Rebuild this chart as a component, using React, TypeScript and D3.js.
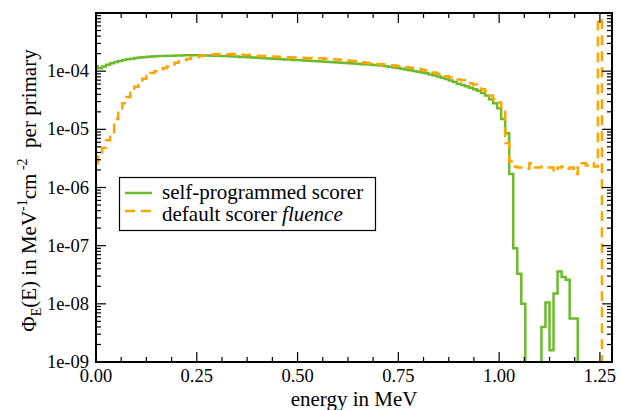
import React from "react";
import * as d3 from "d3";

// histogram bins, centred on multiples of binWidth (MeV)
const binWidth = 0.01;

// self-programmed scorer, bins 0.00 .. 1.20 MeV
const selfScorer = [
  1.22e-4, 1.12e-4, 1.2e-4, 1.29e-4, 1.37e-4, 1.44e-4, 1.5e-4, 1.55e-4, 1.6e-4, 1.64e-4,
  1.68e-4, 1.71e-4, 1.74e-4, 1.77e-4, 1.79e-4, 1.81e-4, 1.82e-4, 1.83e-4, 1.84e-4, 1.85e-4,
  1.86e-4, 1.86e-4, 1.87e-4, 1.87e-4, 1.87e-4, 1.87e-4, 1.87e-4, 1.86e-4, 1.86e-4, 1.85e-4,
  1.84e-4, 1.83e-4, 1.82e-4, 1.81e-4, 1.79e-4, 1.78e-4, 1.76e-4, 1.75e-4, 1.73e-4, 1.72e-4,
  1.7e-4, 1.69e-4, 1.67e-4, 1.65e-4, 1.64e-4, 1.62e-4, 1.61e-4, 1.59e-4, 1.58e-4, 1.56e-4,
  1.55e-4, 1.54e-4, 1.52e-4, 1.51e-4, 1.49e-4, 1.48e-4, 1.47e-4, 1.45e-4, 1.44e-4, 1.42e-4,
  1.41e-4, 1.4e-4, 1.38e-4, 1.37e-4, 1.35e-4, 1.34e-4, 1.32e-4, 1.31e-4, 1.3e-4, 1.28e-4,
  1.27e-4, 1.25e-4, 1.22e-4, 1.19e-4, 1.16e-4, 1.13e-4, 1.1e-4, 1.07e-4, 1.04e-4, 1.01e-4,
  9.8e-5, 9.5e-5, 9.2e-5, 8.8e-5, 8.5e-5, 8.1e-5, 7.7e-5, 7.3e-5, 6.9e-5, 6.5e-5,
  6.1e-5, 5.8e-5, 5.5e-5, 5.2e-5, 4.9e-5, 4.6e-5, 4.2e-5, 3.8e-5, 3.3e-5, 2.8e-5,
  2.3e-5, 1.5e-5, 8.6e-6, 1.7e-6, 9.0e-8, 3.3e-8, 1.0e-8, 0, 0, 0,
  0, 4.0e-9, 1.05e-8, 1.6e-9, 1.5e-8, 3.6e-8, 2.9e-8, 2.6e-8, 5.6e-9, 5.6e-9,
  0,
];

// default scorer "fluence", bins 0.00 .. 1.26 MeV
const fluenceScorer = [
  2.6e-6, 4.0e-6, 4.8e-6, 6.5e-6, 8.0e-6, 1.5e-5, 2.1e-5, 2.8e-5, 3.6e-5, 4.5e-5,
  5.4e-5, 6.3e-5, 7.4e-5, 8.3e-5, 9.3e-5, 1.0e-4, 1.06e-4, 1.12e-4, 1.2e-4, 1.3e-4,
  1.4e-4, 1.47e-4, 1.55e-4, 1.62e-4, 1.7e-4, 1.76e-4, 1.82e-4, 1.87e-4, 1.91e-4, 1.94e-4,
  1.95e-4, 1.97e-4, 1.96e-4, 1.95e-4, 1.97e-4, 1.93e-4, 1.92e-4, 1.9e-4, 1.89e-4, 1.86e-4,
  1.85e-4, 1.83e-4, 1.82e-4, 1.8e-4, 1.78e-4, 1.77e-4, 1.76e-4, 1.74e-4, 1.73e-4, 1.72e-4,
  1.71e-4, 1.7e-4, 1.69e-4, 1.68e-4, 1.67e-4, 1.67e-4, 1.66e-4, 1.64e-4, 1.62e-4, 1.6e-4,
  1.59e-4, 1.56e-4, 1.54e-4, 1.51e-4, 1.49e-4, 1.46e-4, 1.42e-4, 1.39e-4, 1.37e-4, 1.35e-4,
  1.33e-4, 1.31e-4, 1.29e-4, 1.27e-4, 1.25e-4, 1.23e-4, 1.21e-4, 1.18e-4, 1.15e-4, 1.13e-4,
  1.1e-4, 1.06e-4, 1.03e-4, 1.0e-4, 9.5e-5, 9.0e-5, 8.6e-5, 8.2e-5, 7.8e-5, 7.4e-5,
  7.2e-5, 7.0e-5, 6.6e-5, 6.2e-5, 5.9e-5, 5.4e-5, 4.9e-5, 4.5e-5, 3.8e-5, 3.3e-5,
  2.9e-5, 2.0e-5, 5.8e-6, 2.8e-6, 2.3e-6, 2.2e-6, 2.2e-6, 2.1e-6, 2.6e-6, 2.2e-6,
  2.2e-6, 2.3e-6, 2.2e-6, 2.2e-6, 1.85e-6, 2.2e-6, 2.3e-6, 2.1e-6, 2.2e-6, 1.7e-6,
  2.2e-6, 2.6e-6, 2.4e-6, 2.6e-6, 2.3e-6, 7.9e-4, 0,
];

const xTicks = [0, 0.25, 0.5, 0.75, 1.0, 1.25];
const yTicks = [1e-9, 1e-8, 1e-7, 1e-6, 1e-5, 1e-4];
const legendLabels = ["self-programmed scorer", "default scorer "];

const W = 620;
const H = 410;
const m = { left: 96, right: 8, top: 13, bottom: 48 };
const serif = '"Liberation Serif", Tinos, "Nimbus Roman", Times, FreeSerif';
const green = "#6cbb2c";
const orange = "#ffa500";

export default function App() {
  const x = d3.scaleLinear().domain([0, 1.28]).range([m.left, W - m.right]);
  const y = d3.scaleLog().domain([1e-9, 1e-3]).range([H - m.bottom, m.top]);
  const x0 = m.left, x1 = W - m.right, y0 = H - m.bottom, y1 = m.top;

  const line = d3
    .line<number>()
    .x((d, i) => x(i * binWidth))
    .y(d => y(Math.max(d, 1e-13)))
    .curve(d3.curveStep);

  const xMinor = d3.range(0, 1.28, 0.0625);
  const yMinor: number[] = [];
  for (let e = -9; e < -3; e++) {
    for (let k = 1; k < 10; k++) yMinor.push(k * Math.pow(10, e));
  }
  yMinor.push(1e-3);
  const isMajorY = (v: number) => Math.abs(Math.log10(v) - Math.round(Math.log10(v))) < 1e-6;
  const isMajorX = (v: number) => Math.abs(v / 0.25 - Math.round(v / 0.25)) < 1e-6;
  const fmtX = d3.format(".2f");
  const fmtY = (v: number) => "1e-0" + Math.round(-Math.log10(v));

  const majorLen = 10;
  const minorLen = 5;
  const txt = { fontFamily: serif };

  return (
    <svg width={W} height={H} style={{ position: "absolute", left: 0, top: 0, background: "#fff", ...txt }}>
      <defs>
        <clipPath id="plotclip">
          <rect x={x0} y={y1} width={x1 - x0} height={y0 - y1} />
        </clipPath>
      </defs>

      <g clipPath="url(#plotclip)">
        <path d={line(selfScorer) || ""} fill="none" stroke={green} strokeWidth={2.5} />
        <path
          d={line(fluenceScorer) || ""}
          fill="none"
          stroke={orange}
          strokeWidth={2.5}
          strokeDasharray="10,6"
        />
      </g>

      {/* ticks, mirrored on all four sides, pointing inward */}
      <g stroke="#000" strokeWidth={1.2}>
        {xMinor.map(v => {
          const len = isMajorX(v) ? majorLen : minorLen;
          return (
            <g key={"x" + v}>
              <line x1={x(v)} x2={x(v)} y1={y0} y2={y0 - len} />
              <line x1={x(v)} x2={x(v)} y1={y1} y2={y1 + len} />
            </g>
          );
        })}
        {yMinor.map(v => {
          const len = isMajorY(v) ? majorLen : minorLen;
          return (
            <g key={"y" + v}>
              <line x1={x0} x2={x0 + len} y1={y(v)} y2={y(v)} />
              <line x1={x1} x2={x1 - len} y1={y(v)} y2={y(v)} />
            </g>
          );
        })}
      </g>

      <rect x={x0} y={y1} width={x1 - x0} height={y0 - y1} fill="none" stroke="#000" strokeWidth={2} />

      {xTicks.map(v => (
        <text key={v} x={x(v)} y={382} textAnchor="middle" style={txt} fontSize={18.5}>
          {fmtX(v)}
        </text>
      ))}
      {yTicks.map(v => (
        <text key={v} x={89} y={y(v) + 6} textAnchor="end" style={txt} fontSize={18.5}>
          {fmtY(v)}
        </text>
      ))}

      <text x={(x0 + x1) / 2} y={406} textAnchor="middle" style={txt} fontSize={21}>
        energy in MeV
      </text>

      <text
        transform={`translate(36, ${(y0 + y1) / 2 + 3}) rotate(-90)`}
        textAnchor="middle"
        style={{ ...txt, whiteSpace: "pre" }}
        fontSize={21}
      >
        Φ
        <tspan dy={5} fontSize={14}>E</tspan>
        <tspan dy={-5}>(E) in MeV</tspan>
        <tspan dy={-9} fontSize={14}>-1</tspan>
        <tspan dy={9}>cm</tspan>
        <tspan dy={-9} fontSize={14}>{" -2"}</tspan>
        <tspan dy={9}>{"  per primary"}</tspan>
      </text>

      <rect x={119.5} y={177.5} width={256} height={53} fill="#fff" stroke="#000" strokeWidth={1.2} />
      <line x1={125} x2={152} y1={193} y2={193} stroke={green} strokeWidth={2.5} />
      <line x1={125} x2={152} y1={211} y2={211} stroke={orange} strokeWidth={2.5} strokeDasharray="10,6" />
      <text x={162} y={199} style={txt} fontSize={21}>
        {legendLabels[0]}
      </text>
      <text x={162} y={221} style={txt} fontSize={21}>
        {legendLabels[1]}
        <tspan fontStyle="italic">fluence</tspan>
      </text>
    </svg>
  );
}
